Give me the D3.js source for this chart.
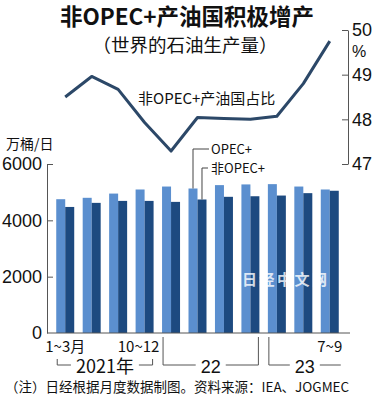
<!DOCTYPE html>
<html lang="zh">
<head>
<meta charset="UTF-8">
<title>非OPEC+产油国积极增产</title>
<script src="https://d3js.org/d3.v7.min.js"></script>
<style>
  body { margin: 0; background: #fff; }
  text { fill: #111; }
  .cjk { font-family: "Noto Sans CJK SC", sans-serif; }
  .num { font-family: "Liberation Sans", Arial, sans-serif; }
  .axis path, .axis line { stroke: #555; stroke-width: 1; }
</style>
</head>
<body>
<div id="chart"></div>
<script>
// data
const quarters = ["2021Q1", "2021Q2", "2021Q3", "2021Q4", "2022Q1", "2022Q2", "2022Q3", "2022Q4", "2023Q1", "2023Q2", "2023Q3"];
const quarterLabels = ["1~3月", "", "", "10~12", "", "", "", "", "", "", "7~9"];
const series = ["OPEC+", "非OPEC+"];
const opecPlus = [4750, 4800, 4950, 5095, 5200, 5130, 5250, 5275, 5285, 5200, 5095];
const nonOpecPlus = [4475, 4620, 4690, 4690, 4655, 4740, 4835, 4855, 4880, 4965, 5050];
const nonOpecShare = [48.5, 48.96, 48.67, 47.93, 47.29, 48.04, 48.02, 48.0, 48.07, 48.8, 49.75];
const leftTicks = [0, 2000, 4000, 6000];
const rightTicks = [47, 48, 49, 50];
const years = [
  { label: "2021年", from: 0, to: 3 },
  { label: "22", from: 4, to: 7 },
  { label: "23", from: 8, to: 10 }
];

const width = 376, height = 400;
const svg = d3.select("#chart").append("svg")
  .attr("width", width).attr("height", height);

const x = d3.scaleBand().domain(quarters).range([52, 343])
  .paddingInner(0.32).paddingOuter(0.16);
const xs = d3.scaleBand().domain(series).range([0, x.bandwidth()]);
const y = d3.scaleLinear().domain([0, 6000]).range([333, 164]);
const yr = d3.scaleLinear().domain([47, 50]).range([164, 30]);
const colors = { "OPEC+": "#5b8fcf", "非OPEC+": "#1d4a80" };

// title
svg.append("text").attr("class", "cjk")
  .attr("x", 187).attr("y", 25).attr("text-anchor", "middle")
  .attr("font-size", 22.5).attr("font-weight", "bold")
  .text("非OPEC+产油国积极增产");
svg.append("text").attr("class", "cjk")
  .attr("x", 185).attr("y", 52).attr("text-anchor", "middle")
  .attr("font-size", 18.5)
  .text("（世界的石油生产量）");

// bars
const rows = quarters.map((q, i) => ({ q, values: [opecPlus[i], nonOpecPlus[i]] }));
svg.append("g").selectAll("g").data(rows).join("g")
  .attr("transform", d => `translate(${x(d.q)},0)`)
  .selectAll("rect").data(d => d.values.map((v, j) => ({ key: series[j], v })))
  .join("rect")
  .attr("x", d => xs(d.key))
  .attr("y", d => y(d.v))
  .attr("width", xs.bandwidth())
  .attr("height", d => y(0) - y(d.v))
  .attr("fill", d => colors[d.key]);

// left axis
const gl = svg.append("g").attr("class", "axis num")
  .attr("transform", "translate(47,0)")
  .call(d3.axisLeft(y).tickValues(leftTicks).tickFormat(d3.format("d"))
    .tickSize(-6).tickPadding(5).tickSizeOuter(0));
gl.selectAll("text").attr("font-size", 18).attr("fill", "#111");
gl.selectAll(".tick").filter(d => d === 0).select("line").remove();

// baseline
svg.append("line")
  .attr("x1", 47).attr("x2", 350).attr("y1", y(0)).attr("y2", y(0))
  .attr("stroke", "#555");

// right axis
const gr = svg.append("g").attr("class", "axis num")
  .attr("transform", "translate(348,0)")
  .call(d3.axisRight(yr).tickValues(rightTicks).tickFormat(d3.format("d"))
    .tickSize(-6).tickPadding(4).tickSizeOuter(0));
gr.selectAll("text").attr("font-size", 18).attr("fill", "#111");
svg.append("text").attr("class", "num")
  .attr("x", 359).attr("y", 57).attr("text-anchor", "middle")
  .attr("font-size", 16).text("%");

// share line
const cx = q => x(q) + x.bandwidth() / 2;
svg.append("path")
  .datum(nonOpecShare)
  .attr("fill", "none").attr("stroke", "#2c4868").attr("stroke-width", 3)
  .attr("stroke-linejoin", "round")
  .attr("d", d3.line().x((d, i) => cx(quarters[i])).y(d => yr(d)));

svg.append("text").attr("class", "cjk")
  .attr("x", 138).attr("y", 104).attr("font-size", 15)
  .text("非OPEC+产油国占比");

// unit
svg.append("text").attr("class", "cjk")
  .attr("x", 6).attr("y", 149).attr("font-size", 14)
  .text("万桶/日");

// legend leaders on the 6th pair
const li = 5;
const lx0 = x(quarters[li]) + xs("OPEC+") + xs.bandwidth() / 2;
const lx1 = x(quarters[li]) + xs("非OPEC+") + xs.bandwidth() / 2;
svg.append("path")
  .attr("d", `M${lx0},${y(opecPlus[li])}V149H209`)
  .attr("fill", "none").attr("stroke", "#444");
svg.append("path")
  .attr("d", `M${lx1},${y(nonOpecPlus[li])}V168H208`)
  .attr("fill", "none").attr("stroke", "#444");
svg.append("text").attr("class", "cjk")
  .attr("x", 211).attr("y", 154).attr("font-size", 13).text("OPEC+");
svg.append("text").attr("class", "cjk")
  .attr("x", 211).attr("y", 173).attr("font-size", 13).text("非OPEC+");

// watermark
svg.append("text").attr("class", "cjk")
  .attr("x", 242).attr("y", 285).attr("font-size", 15)
  .attr("font-weight", "bold").attr("letter-spacing", 2.5)
  .style("fill", "#fff").attr("opacity", 0.8)
  .text("日经中文网");

// quarter labels
svg.append("g").selectAll("text")
  .data(quarters.filter((q, i) => quarterLabels[i]))
  .join("text").attr("class", "cjk")
  .attr("x", q => cx(q) + (q === "2021Q4" ? -6 : 0))
  .attr("y", 352).attr("text-anchor", "middle").attr("font-size", 15)
  .text(q => quarterLabels[quarters.indexOf(q)]);

// year brackets
const by = 365;
years.forEach((yrs, k) => {
  const left = x(quarters[yrs.from]) + 1;
  const right = k === years.length - 1
    ? x(quarters[yrs.to]) + x.bandwidth() + 2
    : x(quarters[yrs.to]) + x.bandwidth() - 1;
  const top = k === 0 ? 359 : 337;
  const t = svg.append("text").attr("class", k === 0 ? "cjk" : "num")
    .attr("x", (left + right) / 2).attr("y", 373)
    .attr("text-anchor", "middle").attr("font-size", 18)
    .text(yrs.label);
  const w = t.node().getComputedTextLength();
  const mid = (left + right) / 2;
  let d = `M${left},${top}V${by}H${mid - w / 2 - 5}M${mid + w / 2 + 5},${by}H${right}`;
  if (k < years.length - 1) d += `V${top}`;
  svg.append("path").attr("d", d).attr("fill", "none").attr("stroke", "#555");
});

// note
svg.append("text").attr("class", "cjk")
  .attr("x", 5).attr("y", 392).attr("font-size", 13.5)
  .text("（注）日经根据月度数据制图。资料来源：IEA、JOGMEC");
</script>
</body>
</html>
